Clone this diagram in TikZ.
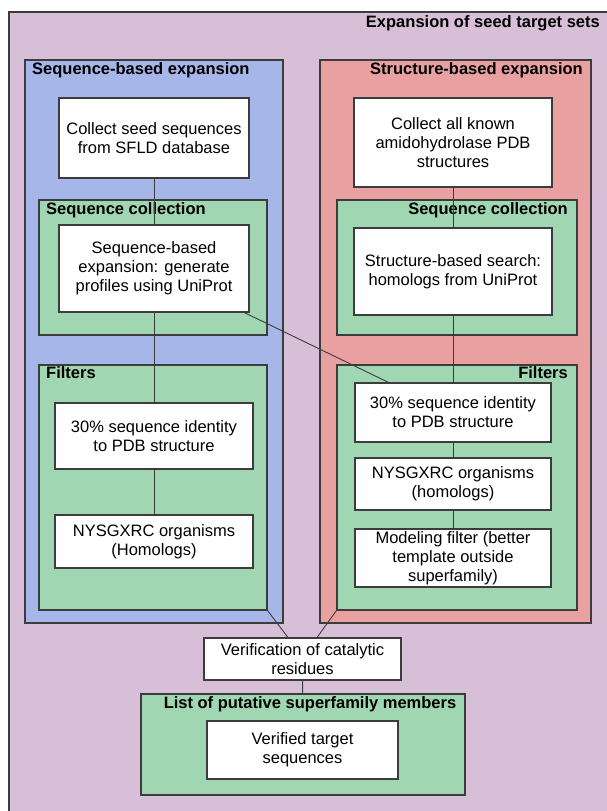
\documentclass[tikz,border=0pt]{standalone}
\usepackage{fontspec}
\setmainfont{Liberation Sans}
\usetikzlibrary{calc}
\definecolor{bgpurple}{RGB}{216,191,216}
\definecolor{seqblue}{RGB}{166,182,232}
\definecolor{strred}{RGB}{232,160,160}
\definecolor{grpgreen}{RGB}{160,214,178}
\definecolor{edgegray}{RGB}{60,60,60}

\begin{document}
\begin{tikzpicture}[x=1pt,y=-1pt,
  grp/.style={draw=edgegray,line width=1.3pt,inner sep=0pt},
  stepbox/.style={draw=edgegray,fill=white,line width=1.1pt,align=center,inner sep=0pt,font=\fontsize{16.5}{19}\selectfont},
  glabel/.style={inner sep=0pt,font=\fontsize{16.5}{19}\selectfont\bfseries},
  link/.style={draw=edgegray,line width=0.9pt}]
\useasboundingbox (0,0) rectangle (606,811);
\filldraw[fill=bgpurple,draw=edgegray,line width=1.3pt] (9,12) rectangle (640,840);
\node[glabel,anchor=east] (title) at (600,23) {Expansion of seed target sets};

\node[grp,fill=seqblue,minimum width=258,minimum height=563] (seqgrp) at (154,341.5) {};
\node[grp,fill=strred,minimum width=271,minimum height=563] (strgrp) at (455.5,341.5) {};
\node[glabel,anchor=west] (seqlbl) at (32,70) {Sequence-based expansion};
\node[glabel,anchor=east] (strlbl) at (583,70) {Structure-based expansion};

\node[grp,fill=grpgreen,minimum width=228,minimum height=135] (lcoll) at (153,267.5) {};
\node[grp,fill=grpgreen,minimum width=240,minimum height=135] (rcoll) at (457,267.5) {};
\node[grp,fill=grpgreen,minimum width=228,minimum height=245] (lfilt) at (153,487.5) {};
\node[grp,fill=grpgreen,minimum width=240,minimum height=245] (rfilt) at (457,487.5) {};
\node[grp,fill=grpgreen,minimum width=324,minimum height=101] (listgrp) at (303,744.5) {};
\node[glabel,anchor=west] (lcolllbl) at (46,210) {Sequence collection};
\node[glabel,anchor=east] (rcolllbl) at (568,210) {Sequence collection};
\node[glabel,anchor=west] (lfiltlbl) at (46,373) {Filters};
\node[glabel,anchor=east] (rfiltlbl) at (568,373) {Filters};
\node[glabel] (listlbl) at (310,704) {List of putative superfamily members};

\node[stepbox,minimum width=190,minimum height=80] (seed) at (154,138) {Collect seed sequences\\from SFLD database};
\node[stepbox,minimum width=198,minimum height=89] (amido) at (453,142.5) {Collect all known\\amidohydrolase PDB\\structures};
\node[stepbox,minimum width=190,minimum height=87] (seqexp) at (154,268.5) {Sequence-based\\expansion: generate\\profiles using UniProt};
\node[stepbox,minimum width=198,minimum height=87] (strsearch) at (453,271.5) {Structure-based search:\\homologs from UniProt};
\node[stepbox,minimum width=198,minimum height=66] (lid) at (154,436) {30\% sequence identity\\to PDB structure};
\node[stepbox,minimum width=198,minimum height=53] (lnys) at (154,541.5) {NYSGXRC organisms\\(Homologs)};
\node[stepbox,minimum width=196,minimum height=59] (rid) at (453,412.5) {30\% sequence identity\\to PDB structure};
\node[stepbox,minimum width=196,minimum height=52] (rnys) at (453,484) {NYSGXRC organisms\\(homologs)};
\node[stepbox,minimum width=196,minimum height=58] (model) at (453,558) {Modeling filter (better\\template outside\\superfamily)};
\node[stepbox,minimum width=197,minimum height=42] (verif) at (302.5,659) {Verification of catalytic\\residues};
\node[stepbox,minimum width=191,minimum height=58] (verified) at (302.5,750) {Verified target\\sequences};

\draw[link] (seed) -- (seqexp);
\draw[link] (seqexp) -- (lid);
\draw[link] (lid) -- (lnys);
\draw[link] (amido) -- (strsearch);
\draw[link] (strsearch) -- (rid);
\draw[link] (rid) -- (rnys);
\draw[link] (rnys) -- (model);
\draw[link] (seqexp.-26) -- (rid.155);
\draw[link] (lfilt.south east) -- (verif.124);
\draw[link] (rfilt.south west) -- (verif.56);
\draw[link] (verif) -- (listgrp);
\end{tikzpicture}
\end{document}
